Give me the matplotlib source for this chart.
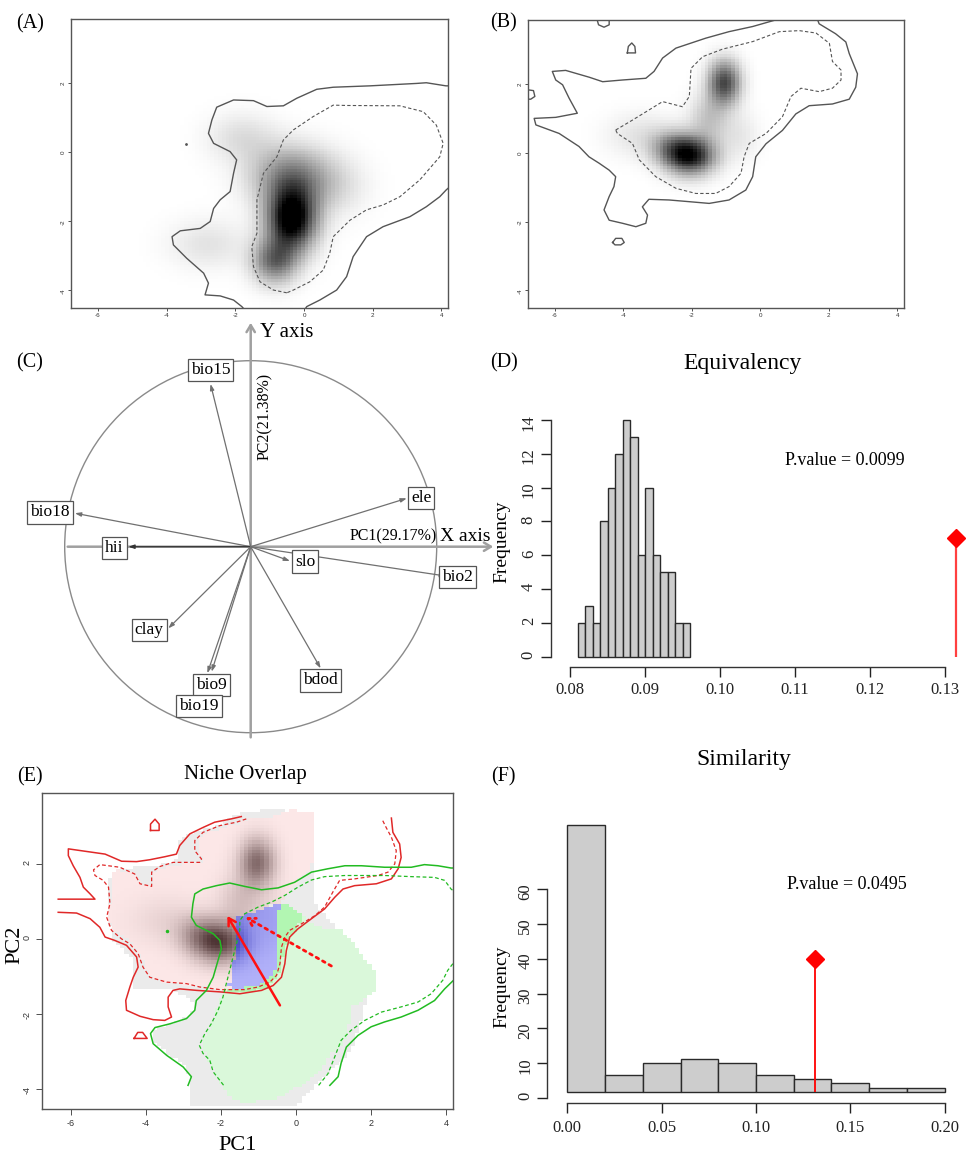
import numpy as np
import matplotlib
matplotlib.use("Agg")
import matplotlib.pyplot as plt
from matplotlib.path import Path
from matplotlib.patches import Circle

plt.rcParams['axes.unicode_minus'] = False
SERIF = ['Liberation Serif', 'DejaVu Serif']
SANS = ['Liberation Sans', 'DejaVu Sans']

# ---------------- data ----------------
# niche grid limits (PC1, PC2)
grid_x = (-6.78, 4.19)
grid_y = (-4.53, 3.88)
map_xticks = [-6, -4, -2, 0, 2, 4]
map_yticks = [-4, -2, 0, 2]

# kernel density components (cx, cy, sx, sy, weight)
dens_A = [(-0.35, -1.95, 0.50, 0.65, 1.00),
          (-0.85, -3.20, 0.45, 0.45, 0.50),
          (-0.40, -0.70, 0.80, 0.60, 0.40),
          (-1.80, 0.40, 0.70, 0.50, 0.12),
          (-2.80, -2.70, 0.80, 0.50, 0.10),
          (0.80, -1.00, 0.70, 0.60, 0.12)]
dens_B = [(-2.05, -0.10, 0.50, 0.38, 1.00),
          (-2.60, 0.15, 0.45, 0.35, 0.35),
          (-1.05, 2.05, 0.33, 0.45, 0.80),
          (-1.50, 1.00, 0.40, 0.50, 0.25),
          (-3.50, 0.50, 0.70, 0.45, 0.12),
          (-0.60, 0.50, 0.40, 0.50, 0.10)]

# (A) contours
A_outer1 = [(4.3, 1.93), (4.13, 1.93), (3.56, 2.02), (3.27, 2.0), (1.92, 1.93), (0.85, 1.89),
            (0.37, 1.83), (-0.21, 1.57), (-0.6, 1.35), (-1.08, 1.33), (-1.47, 1.5),
            (-2.05, 1.52), (-2.54, 1.31), (-2.68, 0.94), (-2.78, 0.55), (-2.63, 0.26),
            (-2.15, 0.02), (-1.96, -0.22), (-2.05, -0.61), (-2.15, -1.14), (-2.44, -1.38),
            (-2.63, -1.63), (-2.73, -2.01), (-3.02, -2.21), (-3.6, -2.28), (-3.84, -2.45),
            (-3.8, -2.69), (-3.41, -3.08), (-2.92, -3.51), (-2.78, -3.8), (-2.88, -4.14),
            (-2.44, -4.17), (-2.05, -4.29), (-1.81, -4.48), (-1.7, -4.6)]
A_outer2 = [(0.0, -4.6), (0.08, -4.48), (0.46, -4.29), (0.95, -4.0), (1.24, -3.61),
            (1.43, -3.03), (1.82, -2.45), (2.3, -2.16), (3.08, -1.87), (3.56, -1.58),
            (3.95, -1.29), (4.14, -1.09), (4.3, -0.95)]
A_inner = [(-0.5, -4.08), (-0.89, -4.0), (-1.28, -3.76), (-1.47, -3.32), (-1.52, -2.74),
           (-1.37, -2.35), (-1.37, -1.38), (-1.18, -0.61), (-0.79, -0.13), (-0.6, 0.36),
           (-0.31, 0.65), (0.27, 1.04), (0.85, 1.37), (1.24, 1.36), (2.79, 1.35),
           (3.47, 1.18), (3.85, 0.79), (4.05, 0.26), (3.95, -0.13), (3.37, -0.8),
           (2.79, -1.29), (2.3, -1.53), (1.82, -1.67), (1.34, -1.97), (0.85, -2.45),
           (0.75, -2.93), (0.56, -3.42), (0.17, -3.76), (-0.31, -4.0), (-0.5, -4.08)]
A_dot = (-3.43, 0.23)

# (B) contours
B_outer = [(0.41, 3.95), (0.41, 3.87), (-0.22, 3.69), (-0.91, 3.54), (-1.59, 3.35), (-2.46, 3.06),
           (-2.85, 2.77), (-3.1, 2.38), (-3.34, 2.18), (-4.02, 2.13), (-4.6, 2.08),
           (-4.99, 2.21), (-5.68, 2.41), (-6.07, 2.38), (-5.97, 2.13), (-5.77, 1.99),
           (-5.58, 1.6), (-5.34, 1.16), (-5.97, 1.04), (-6.6, 1.01), (-6.55, 0.82),
           (-5.87, 0.57), (-5.29, 0.19), (-5.0, -0.11), (-4.7, -0.3), (-4.41, -0.5),
           (-4.22, -0.69), (-4.27, -0.98), (-4.41, -1.27), (-4.56, -1.66), (-4.41, -1.96),
           (-4.02, -2.05), (-3.63, -2.15), (-3.34, -2.05), (-3.29, -1.81), (-3.44, -1.57),
           (-3.25, -1.35), (-2.66, -1.37), (-2.07, -1.42), (-1.49, -1.47), (-0.91, -1.37),
           (-0.42, -1.08), (-0.22, -0.69), (-0.13, -0.11), (0.17, 0.27), (0.65, 0.66),
           (1.04, 1.14), (1.43, 1.38), (2.11, 1.43), (2.6, 1.57), (2.79, 1.92),
           (2.84, 2.31), (2.6, 2.9), (2.5, 3.24), (2.2, 3.48), (1.72, 3.77), (1.65, 3.95)]
B_inner = [(-4.22, 0.67), (-3.73, 0.96), (-3.24, 1.26), (-2.85, 1.5), (-2.27, 1.35),
           (-2.07, 1.65), (-2.02, 2.47), (-1.68, 2.81), (-1.1, 3.03), (-0.22, 3.25),
           (0.56, 3.54), (1.14, 3.57), (1.63, 3.5), (2.02, 3.2), (2.11, 2.67),
           (2.36, 2.42), (2.36, 2.13), (2.11, 1.89), (1.72, 1.79), (1.19, 1.89),
           (0.9, 1.65), (0.65, 1.06), (0.17, 0.57), (-0.32, 0.28), (-0.47, -0.11),
           (-0.56, -0.59), (-0.91, -0.98), (-1.3, -1.18), (-1.88, -1.18), (-2.46, -1.03),
           (-3.05, -0.69), (-3.53, -0.2), (-3.73, 0.28), (-4.17, 0.57), (-4.22, 0.67)]
B_loops = [[(-4.78, 3.95), (-4.72, 3.74), (-4.56, 3.67), (-4.41, 3.74), (-4.41, 3.95)],
           [(-3.88, 2.92), (-3.85, 3.11), (-3.75, 3.21), (-3.66, 3.11), (-3.64, 2.92), (-3.88, 2.92)],
           [(-6.9, 1.86), (-6.62, 1.82), (-6.58, 1.65), (-6.7, 1.57), (-6.9, 1.57)],
           [(-4.31, -2.61), (-4.22, -2.49), (-4.04, -2.49), (-3.97, -2.61), (-4.07, -2.68),
            (-4.24, -2.68), (-4.31, -2.61)]]

# (C) PCA correlation circle: variable name, arrow tip, label centre
pca_vars = ['bio15', 'ele', 'bio18', 'hii', 'slo', 'bio2', 'clay', 'bio9', 'bio19', 'bdod']
pca_tip_x = [-0.216, 0.839, -0.945, -0.658, 0.211, 1.050, -0.443, -0.210, -0.233, 0.376]
pca_tip_y = [0.875, 0.260, 0.180, 0.000, -0.077, -0.158, -0.439, -0.672, -0.680, -0.654]
pca_lab_x = [-0.216, 0.916, -1.080, -0.732, 0.292, 1.113, -0.546, -0.212, -0.279, 0.375]
pca_lab_y = [0.950, 0.262, 0.184, -0.006, -0.080, -0.161, -0.446, -0.744, -0.856, -0.719]

# (D) equivalency histogram
equiv_edges = [0.081, 0.082, 0.083, 0.084, 0.085, 0.086, 0.087, 0.088, 0.089,
               0.090, 0.091, 0.092, 0.093, 0.094, 0.095, 0.096]
equiv_counts = [2, 3, 2, 8, 10, 12, 14, 13, 6, 10, 6, 5, 5, 2, 2]
equiv_obs = 0.1314
equiv_obs_h = 7
equiv_p = 'P.value = 0.0099'

# (F) similarity histogram
sim_edges = [0.00, 0.02, 0.04, 0.06, 0.08, 0.10, 0.12, 0.14, 0.16, 0.18, 0.20]
sim_counts = [76.6, 5.0, 8.4, 9.6, 8.4, 5.0, 3.7, 2.5, 1.2, 1.2]
sim_base = 1.7
sim_obs = 0.1314
sim_obs_h = 40
sim_p = 'P.value = 0.0495'

# (E) niche overlap: occupied regions
E_gray = [(-1.5, 3.4), (-0.45, 3.52), (0.5, 3.0), (0.5, 1.0), (2.1, -1.0), (1.5, -3.0),
          (0.0, -4.45), (-2.9, -4.45), (-2.85, -3.85), (-2.95, -3.45), (-3.45, -3.1),
          (-3.8, -2.75), (-3.85, -2.45), (-3.3, -2.25), (-2.85, -2.05), (-2.7, -1.75),
          (-3.1, -1.5), (-3.3, -1.38), (-4.45, -1.38), (-4.45, -0.5), (-4.95, 0.0),
          (-5.05, 0.6), (-5.0, 1.75), (-4.3, 1.95), (-3.8, 1.95), (-3.25, 2.1),
          (-3.1, 2.7), (-2.5, 2.95), (-2.0, 3.1)]
E_green = [(-0.35, 0.98), (-0.08, 0.85), (0.28, 0.49), (0.63, 0.32), (1.16, 0.27),
           (1.52, -0.04), (1.87, -0.57), (2.09, -0.84), (2.09, -1.41), (1.87, -1.63),
           (1.52, -1.81), (1.43, -2.26), (1.34, -2.7), (0.9, -3.14), (0.63, -3.59),
           (0.1, -3.95), (-0.61, -4.34), (-1.5, -4.38), (-1.85, -4.2), (-2.03, -3.85),
           (-2.39, -3.23), (-2.56, -2.83), (-2.3, -2.34), (-2.08, -1.72), (-1.94, -1.37),
           (-1.77, -0.93), (-1.63, 0.58)]
E_bright = [(-0.45, 1.02), (-0.15, 0.92), (0.15, 0.62), (0.05, 0.3), (-0.2, 0.0),
            (-0.33, -0.4), (-0.45, -0.9), (-0.8, -1.32), (-1.3, -1.47), (-1.85, -1.42),
            (-1.85, -1.2), (-1.0, -1.1), (-0.55, -0.75), (-0.5, 0.3)]
E_pink = [(0.45, 3.4), (0.05, 3.46), (-0.35, 3.45), (-0.5, 3.3), (-1.3, 3.2), (-1.86, 3.02),
          (-2.48, 2.84), (-2.66, 2.62), (-2.66, 2.35), (-2.48, 2.04), (-3.28, 2.0),
          (-3.81, 1.82), (-3.9, 1.47), (-4.16, 1.47), (-4.34, 1.73), (-4.79, 1.87),
          (-5.0, 1.73), (-5.0, 1.02), (-5.05, 0.58), (-4.92, 0.23), (-4.47, -0.04),
          (-4.16, -0.48), (-3.99, -0.84), (-3.81, -1.1), (-3.28, -1.19), (-2.57, -1.28),
          (-1.86, -1.37), (-1.6, -1.3), (-1.6, 0.6), (-1.14, 0.71), (-0.6, 0.95),
          (-0.3, 1.02), (-0.21, 1.29), (0.05, 1.56), (0.32, 1.82), (0.45, 2.09)]
E_blue = [(-1.63, 0.58), (-1.14, 0.71), (-0.79, 0.85), (-0.52, 0.95), (-0.35, 0.98),
          (-0.48, 0.76), (-0.52, 0.32), (-0.48, -0.39), (-0.52, -0.75), (-0.79, -1.1),
          (-1.14, -1.28), (-1.68, -1.32), (-1.81, -1.28), (-1.77, -0.93), (-1.68, -0.57),
          (-1.59, -0.22), (-1.59, 0.32)]

# (E) contours
E_red_solid1 = [(-1.46, 3.26), (-1.72, 3.2), (-2.17, 3.11), (-2.48, 2.97), (-2.83, 2.8),
                (-3.1, 2.49), (-3.19, 2.26), (-3.5, 2.19), (-3.9, 2.11), (-4.25, 2.06),
                (-4.65, 2.07), (-5.09, 2.26), (-5.58, 2.33), (-6.07, 2.4), (-6.07, 2.22),
                (-5.94, 1.95), (-5.76, 1.64), (-5.67, 1.38), (-5.49, 1.2), (-5.36, 1.06),
                (-6.34, 1.06)]
E_red_solid2 = [(-6.34, 0.71), (-5.85, 0.69), (-5.49, 0.54), (-5.23, 0.31), (-5.09, 0.05),
                (-4.83, -0.04), (-4.52, -0.17), (-4.25, -0.48), (-4.21, -0.75), (-4.34, -1.02),
                (-4.43, -1.28), (-4.54, -1.64), (-4.52, -1.9), (-4.16, -2.06), (-3.81, -2.15),
                (-3.5, -2.17), (-3.32, -2.08), (-3.41, -1.81), (-3.41, -1.55), (-3.28, -1.37),
                (-3.1, -1.33), (-2.65, -1.37), (-2.03, -1.41), (-1.5, -1.46), (-0.92, -1.37),
                (-0.61, -1.24), (-0.39, -1.02), (-0.3, -0.66), (-0.26, -0.31), (-0.17, 0.05),
                (0.05, 0.27), (0.41, 0.54), (0.76, 0.8), (1.03, 1.11), (1.25, 1.33),
                (1.56, 1.42), (2.14, 1.47), (2.54, 1.6), (2.72, 1.87), (2.8, 2.17),
                (2.76, 2.53), (2.58, 2.84), (2.54, 3.22)]
E_red_loops = [[(-3.88, 2.89), (-3.88, 3.06), (-3.76, 3.19), (-3.65, 3.06), (-3.65, 2.89), (-3.88, 2.89)],
               [(-4.32, -2.65), (-4.22, -2.49), (-4.09, -2.49), (-3.97, -2.65), (-4.32, -2.65)]]
E_red_dashed = [(2.31, 3.15), (2.4, 2.97), (2.54, 2.71), (2.67, 2.35), (2.63, 2.0), (2.45, 1.78),
                (2.18, 1.69), (1.56, 1.6), (1.16, 1.56), (0.98, 1.25), (0.76, 0.85), (0.5, 0.62),
                (0.14, 0.4), (-0.17, 0.23), (-0.3, 0.05), (-0.39, -0.22), (-0.43, -0.66),
                (-0.52, -0.97), (-0.7, -1.15), (-1.01, -1.28), (-1.37, -1.35), (-2.03, -1.35),
                (-2.57, -1.28), (-2.92, -1.19), (-3.45, -1.15), (-3.9, -1.02), (-4.08, -0.75),
                (-4.21, -0.39), (-4.43, -0.13), (-4.65, 0.0), (-4.92, 0.23), (-5.05, 0.58),
                (-4.96, 0.94), (-5.0, 1.38), (-5.14, 1.56), (-5.36, 1.69), (-5.4, 1.84),
                (-5.23, 1.98), (-4.7, 1.91), (-4.3, 1.73), (-4.16, 1.47), (-3.85, 1.4),
                (-3.85, 1.78), (-3.63, 1.93), (-3.28, 2.04), (-2.92, 2.04), (-2.57, 2.04),
                (-2.52, 2.13), (-2.7, 2.35), (-2.7, 2.62), (-2.48, 2.84), (-2.03, 3.02),
                (-1.59, 3.11), (-1.32, 3.2)]
E_green_solid1 = [(4.3, 1.89), (4.13, 1.89), (3.78, 1.95), (3.42, 1.98), (3.07, 1.91), (2.36, 1.91),
                  (1.74, 1.95), (1.3, 1.95), (0.85, 1.87), (0.41, 1.78), (-0.04, 1.51),
                  (-0.48, 1.36), (-0.92, 1.31), (-1.37, 1.4), (-1.77, 1.49), (-2.12, 1.42),
                  (-2.48, 1.33), (-2.7, 1.2), (-2.75, 0.94), (-2.79, 0.58), (-2.66, 0.36),
                  (-2.21, 0.14), (-2.03, -0.04), (-1.99, -0.26), (-2.08, -0.57), (-2.21, -1.02),
                  (-2.39, -1.37), (-2.66, -1.64), (-2.7, -1.9), (-2.92, -2.12), (-3.36, -2.26),
                  (-3.76, -2.36), (-3.88, -2.52), (-3.81, -2.79), (-3.45, -3.1), (-3.01, -3.41),
                  (-2.79, -3.67), (-2.88, -3.9)]
E_green_solid2 = [(0.9, -3.9), (1.12, -3.67), (1.2, -3.31), (1.34, -2.88), (1.65, -2.57),
                  (2.0, -2.34), (2.36, -2.21), (2.8, -2.08), (3.25, -1.9), (3.69, -1.64),
                  (3.96, -1.33), (4.3, -1.0)]
E_green_dashed1 = [(4.3, 1.2), (4.13, 1.33), (3.96, 1.56), (3.69, 1.64), (3.07, 1.66), (2.36, 1.69),
                   (1.3, 1.69), (0.76, 1.66), (0.41, 1.57), (0.05, 1.38), (-0.3, 1.16),
                   (-0.66, 0.98), (-1.01, 0.85), (-1.37, 0.67), (-1.5, 0.49), (-1.5, 0.23),
                   (-1.59, -0.13), (-1.68, -0.48), (-1.77, -0.84), (-1.86, -1.19), (-1.95, -1.55),
                   (-2.08, -1.9), (-2.26, -2.26), (-2.43, -2.52), (-2.58, -2.83), (-2.48, -3.05),
                   (-2.3, -3.23), (-2.21, -3.54), (-2.03, -3.77), (-1.9, -3.94)]
E_green_dashed2 = [(0.6, -3.9), (0.85, -3.59), (1.03, -3.14), (1.2, -2.7), (1.47, -2.43),
                   (1.83, -2.17), (2.27, -1.95), (2.8, -1.81), (3.25, -1.68), (3.6, -1.46),
                   (3.91, -1.1), (4.04, -0.84), (4.3, -0.5)]
E_green_dot = (-3.45, 0.21)
# centroid shift arrows (from, to)
E_arrow_solid = ((-0.43, -1.77), (-1.83, 0.61))
E_arrow_dotted = ((0.94, -0.72), (-1.34, 0.58))

# ---------------- helpers ----------------
W, H = 978, 1162


def box(x0, y0, x1, y1):
    return [x0 / W, 1 - y1 / H, (x1 - x0) / W, (y1 - y0) / H]


nx, ny = 100, 100
gxs = np.linspace(grid_x[0], grid_x[1], nx)
gys = np.linspace(grid_y[0], grid_y[1], ny)
GX, GY = np.meshgrid(gxs, gys)
grid_pts = np.column_stack([GX.ravel(), GY.ravel()])


def density(comps):
    z = np.zeros_like(GX)
    for cx, cy, sx, sy, w in comps:
        z += w * np.exp(-0.5 * (((GX - cx) / sx) ** 2 + ((GY - cy) / sy) ** 2))
    return z / z.max()


def inside(poly):
    return Path(poly).contains_points(grid_pts).reshape(ny, nx)


def line(ax, pts, **kw):
    xs, ys = zip(*pts)
    ax.plot(xs, ys, **kw)


def style_map(ax, fs, tl, pad):
    ax.set_xlim(*grid_x)
    ax.set_ylim(*grid_y)
    ax.set_xticks(map_xticks)
    ax.set_yticks(map_yticks)
    ax.tick_params(labelsize=fs, length=tl, pad=pad, colors='#333', width=0.6)
    ax.tick_params(axis='y', labelrotation=90)
    for lab in ax.get_xticklabels() + ax.get_yticklabels():
        lab.set_family(SANS)
    for s in ax.spines.values():
        s.set_color('#555')
        s.set_linewidth(1.0)


def panel_label(x, y, s):
    fig.text(x / W, 1 - y / H, s, family=SERIF, fontsize=14.5, ha='center', va='center')


fig = plt.figure(figsize=(W / 100, H / 100), dpi=100)
contour_col = '#555555'
dash = (0, (3, 2))

# ---------------- (A) ----------------
axA = fig.add_axes(box(71, 18.7, 448, 308.3))
dA = np.clip(density(dens_A) / 0.85, 0, 1)
axA.imshow(dA, extent=(*grid_x, *grid_y), origin='lower', cmap='gray_r', vmin=0, vmax=1,
           interpolation='nearest', aspect='auto')
line(axA, A_outer1, color=contour_col, lw=1.0)
line(axA, A_outer2, color=contour_col, lw=1.0)
line(axA, A_inner, color=contour_col, lw=0.8, ls=dash)
axA.plot(*A_dot, marker='.', ms=2, color=contour_col)
style_map(axA, 4.5, 2.5, 1.2)

# ---------------- (B) ----------------
axB = fig.add_axes(box(528, 20, 903.7, 308.3))
dB = density(dens_B)
axB.imshow(np.clip(dB / 0.95, 0, 1), extent=(*grid_x, *grid_y), origin='lower', cmap='gray_r',
           vmin=0, vmax=1, interpolation='nearest', aspect='auto')
line(axB, B_outer, color=contour_col, lw=1.0)
line(axB, B_inner, color=contour_col, lw=0.8, ls=dash)
for lp in B_loops:
    line(axB, lp, color=contour_col, lw=1.0)
style_map(axB, 4.5, 2.5, 1.2)

# ---------------- (C) ----------------
axC = fig.add_axes(box(0, 310, 500, 740))
axC.set_xlim((0 - 250.7) / 186, (500 - 250.7) / 186)
axC.set_ylim((546.7 - 740) / 186, (546.7 - 310) / 186)
axC.axis('off')
axC.add_patch(Circle((0, 0), 1.0, fill=False, ec='#8a8a8a', lw=1.0))
axC.annotate('', xy=(1.319, 0), xytext=(-0.999, 0),
             arrowprops=dict(arrowstyle='->,head_length=0.5,head_width=0.3', color='#a0a0a0', lw=1.8))
axC.annotate('', xy=(0, 1.219), xytext=(0, -1.04),
             arrowprops=dict(arrowstyle='->,head_length=0.5,head_width=0.3', color='#a0a0a0', lw=1.8))
for name, tx, ty in zip(pca_vars, pca_tip_x, pca_tip_y):
    col = '#333333' if name == 'hii' else '#707070'
    axC.annotate('', xy=(tx, ty), xytext=(0, 0),
                 arrowprops=dict(arrowstyle='-|>,head_length=0.35,head_width=0.12',
                                 color=col, lw=0.9, shrinkA=0, shrinkB=0))
for name, lx, ly in zip(pca_vars, pca_lab_x, pca_lab_y):
    axC.text(lx, ly, name, family=SERIF, fontsize=12.5, ha='center', va='center',
             bbox=dict(boxstyle='square,pad=0.18', fc='white', ec='#555555', lw=0.9))
axC.text(0.05, 1.149, 'Y axis', family=SERIF, fontsize=15, ha='left', va='center')
axC.text(1.018, 0.01, 'X axis', family=SERIF, fontsize=14, ha='left', va='bottom')
axC.text(1.0, 0.015, 'PC1(29.17%)', family=SERIF, fontsize=11.5, ha='right', va='bottom')
axC.text(0.077, 0.702, 'PC2(21.38%)', family=SERIF, fontsize=11.5, ha='center', va='center',
         rotation=90)


def style_hist(ax, xb, yb, xt, xl, yt):
    for s in ['top', 'right']:
        ax.spines[s].set_visible(False)
    for s in ['left', 'bottom']:
        ax.spines[s].set_color('#333')
        ax.spines[s].set_linewidth(1.0)
    ax.spines['left'].set_bounds(*yb)
    ax.spines['bottom'].set_bounds(*xb)
    ax.set_xticks(xt)
    ax.set_xticklabels(xl)
    ax.set_yticks(yt)
    ax.tick_params(length=7, width=1.0, labelsize=12, colors='#222', pad=4)
    ax.tick_params(axis='y', labelrotation=90, pad=3)
    for lab in ax.get_xticklabels() + ax.get_yticklabels():
        lab.set_family(SERIF)
    ax.patch.set_alpha(0)


# ---------------- (D) ----------------
axD = fig.add_axes(box(550.7, 400, 960, 666.7))
axD.set_xlim(0.077385, 0.132)
axD.set_ylim(-0.591, 15.18)
axD.bar(equiv_edges[:-1], equiv_counts, width=np.diff(equiv_edges), align='edge',
        color='#cdcdcd', edgecolor='#2a2a2a', lw=1.0)
axD.vlines(equiv_obs, 0, equiv_obs_h, color='#ff4040', lw=1.6)
axD.plot(equiv_obs, equiv_obs_h, marker='D', ms=9, color='#ff0000', clip_on=False)
axD.text(0.1087, 11.63, equiv_p, family=SERIF, fontsize=13, ha='left', va='center')
style_hist(axD, (0.08, 0.13), (0, 14), [0.08, 0.09, 0.10, 0.11, 0.12, 0.13],
           ['0.08', '0.09', '0.10', '0.11', '0.12', '0.13'], list(range(0, 15, 2)))
axD.set_ylabel('Frequency', family=SERIF, fontsize=14)
axD.yaxis.set_label_coords(-0.098, 0.469)
fig.text(742.3 / W, 1 - 363.3 / H, 'Equivalency', family=SERIF, fontsize=17, ha='center', va='center')

# ---------------- (F) ----------------
axF = fig.add_axes(box(547.3, 800, 960, 1103.3))
axF.set_xlim(-0.0106, 0.2081)
axF.set_ylim(-1.52, 85.56)
axF.bar(sim_edges[:-1], sim_counts, width=np.diff(sim_edges), bottom=sim_base, align='edge',
        color='#cdcdcd', edgecolor='#2a2a2a', lw=1.0)
axF.vlines(sim_obs, sim_base, sim_obs_h, color='#ff0000', lw=1.3)
axF.plot(sim_obs, sim_obs_h, marker='D', ms=9, color='#ff0000')
axF.text(0.1163, 61.2, sim_p, family=SERIF, fontsize=13, ha='left', va='center')
style_hist(axF, (0, 0.2), (0, 60), [0.0, 0.05, 0.10, 0.15, 0.20],
           ['0.00', '0.05', '0.10', '0.15', '0.20'], list(range(0, 61, 10)))
axF.tick_params(axis='x', pad=5)
axF.set_ylabel('Frequency', family=SERIF, fontsize=14)
axF.yaxis.set_label_coords(-0.09, 0.384)
fig.text(744 / W, 1 - 760 / H, 'Similarity', family=SERIF, fontsize=17, ha='center', va='center')

# ---------------- (E) ----------------
axE = fig.add_axes(box(41.7, 793.3, 453.3, 1109))
img = np.ones((ny, nx, 3))
img[inside(E_gray)] = np.array([235, 235, 235]) / 255
img[inside(E_green)] = np.array([218, 248, 218]) / 255
img[inside(E_bright)] = np.array([178, 246, 178]) / 255
d2 = density(dens_B)[..., None]
pink = np.array([253, 232, 232]) / 255
brown = np.array([78, 52, 52]) / 255
m = inside(E_pink)
img[m] = (pink * (1 - d2) + brown * d2)[m]
lblue = np.array([178, 178, 250]) / 255
dblue = np.array([55, 55, 185]) / 255
d2b = np.clip(d2 * 1.4, 0, 1)
m = inside(E_blue)
img[m] = (lblue * (1 - d2b) + dblue * d2b)[m]
axE.imshow(img, extent=(*grid_x, *grid_y), origin='lower', interpolation='nearest', aspect='auto')
red = '#e02828'
green = '#22bb22'
line(axE, E_red_solid1, color=red, lw=1.1)
line(axE, E_red_solid2, color=red, lw=1.1)
for lp in E_red_loops:
    line(axE, lp, color=red, lw=1.1)
line(axE, E_red_dashed, color=red, lw=0.9, ls=dash)
line(axE, E_green_solid1, color=green, lw=1.1)
line(axE, E_green_solid2, color=green, lw=1.1)
line(axE, E_green_dashed1, color=green, lw=0.9, ls=dash)
line(axE, E_green_dashed2, color=green, lw=0.9, ls=dash)
axE.plot(*E_green_dot, marker='.', ms=3, color=green)
axE.annotate('', xy=E_arrow_solid[1], xytext=E_arrow_solid[0],
             arrowprops=dict(arrowstyle='->,head_length=0.5,head_width=0.3', color='#ff1010',
                             lw=1.8, shrinkA=0, shrinkB=0))
axE.annotate('', xy=E_arrow_dotted[1], xytext=E_arrow_dotted[0],
             arrowprops=dict(arrowstyle='->,head_length=0.5,head_width=0.3', color='#ff1010',
                             lw=2.0, ls=':', shrinkA=0, shrinkB=0))
style_map(axE, 6.5, 4, 3)
fig.text(245 / W, 1 - 775 / H, 'Niche Overlap', family=SERIF, fontsize=15, ha='center', va='center')
fig.text(238 / W, 1 - 1145 / H, 'PC1', family=SERIF, fontsize=16, ha='center', va='center')
fig.text(15 / W, 1 - 945 / H, 'PC2', family=SERIF, fontsize=16, ha='center', va='center', rotation=90)

# panel letters
panel_label(30, 24, '(A)')
panel_label(503.5, 23, '(B)')
panel_label(30, 363, '(C)')
panel_label(504, 363, '(D)')
panel_label(30, 776.7, '(E)')
panel_label(503.5, 776.7, '(F)')

fig.savefig('out.png', dpi=100)
